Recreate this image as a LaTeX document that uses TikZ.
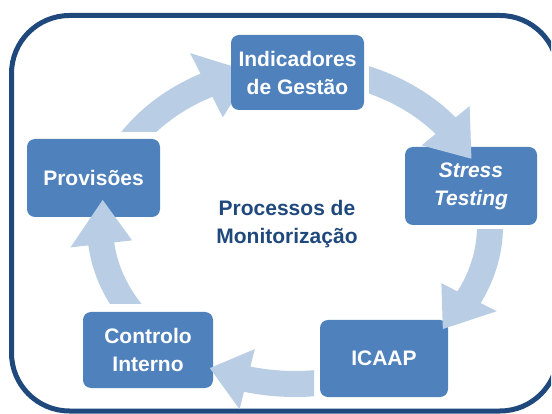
\documentclass[tikz,border=0pt]{standalone}
\usepackage{fontspec}
\setsansfont{Liberation Sans}
\definecolor{boxblue}{HTML}{4F81BD}
\definecolor{arrowblue}{HTML}{B9CDE5}
\definecolor{framec}{HTML}{1F497D}
% cycle arrow on ellipse centre (295,226), semi-axes 195/158, shaft half width 13
% #1 start angle, #2 head base angle, #3 tip angle, #4 head half width
\newcommand{\cyarrow}[4]{%
  \fill[arrowblue]
    plot[domain=#1:#2, samples=40, variable=\t] ({295+208*cos(\t)},{226+171*sin(\t)})
    -- ({295+(195+#4)*cos(#2)},{226+(158+#4)*sin(#2)})
    -- ({295+195*cos(#3)},{226+158*sin(#3)})
    -- ({295+(195-#4)*cos(#2)},{226+(158-#4)*sin(#2)})
    -- plot[domain=#2:#1, samples=40, variable=\t] ({295+182*cos(\t)},{226+145*sin(\t)})
    -- cycle;}
\begin{document}
\begin{tikzpicture}[x=1pt,y=-1pt,
  box/.style={fill=boxblue, rounded corners=8pt, text=white,
    font=\sffamily\bfseries\fontsize{21}{28}\selectfont, align=center, inner sep=0pt},
  centertext/.style={text=framec, font=\sffamily\bfseries\fontsize{21}{28}\selectfont, align=center}]
\fill[white] (0,0) rectangle (552,414);
\useasboundingbox (0,0) rectangle (552,414);
% frame (top-left, top-right and bottom-right corners; right side runs off the page)
\begin{scope}
\clip (0,0) rectangle (551,414);
\draw[line width=5pt, draw=framec, rounded corners=58pt] (11.5,15.5) rectangle (558,411);
\end{scope}
% arrow Provisoes -> Indicadores (under the box)
\begin{scope}
  \clip (0,0) rectangle (552,132);
  \cyarrow{200}{243}{257}{36}
\end{scope}
% boxes
\node[box, minimum width=133pt, minimum height=75pt] (ind) at (297.5,72.5) {Indicadores\\de Gestão};
\node[box, minimum width=132pt, minimum height=78pt] (st) at (471,186) {\itshape Stress\\\itshape Testing};
\node[box, minimum width=128pt, minimum height=77pt] (icaap) at (384,358.5) {ICAAP};
\node[box, minimum width=130pt, minimum height=76pt] (ci) at (148,350) {Controlo\\Interno};
\node[box, minimum width=133pt, minimum height=78pt] (prov) at (93.5,178) {Provisões};
% remaining arrows (over the boxes)
\begin{scope}
  \clip (369,0) rectangle (552,414);
  \cyarrow{280}{320.6}{334.8}{31}
\end{scope}
\begin{scope}
  \clip (0,230) rectangle (552,414);
  \cyarrow{-12}{26.8}{40.7}{31}
\end{scope}
\begin{scope}
  \clip (0,0) rectangle (314,414);
  \cyarrow{72}{104.2}{115.9}{31}
\end{scope}
\begin{scope}
  \clip (0,0) rectangle (552,304);
  \cyarrow{140}{173.5}{189.5}{31}
\end{scope}
% centre text
\node[centertext] (title) at (287,224) {Processos de\\Monitorização};
\end{tikzpicture}
\end{document}
